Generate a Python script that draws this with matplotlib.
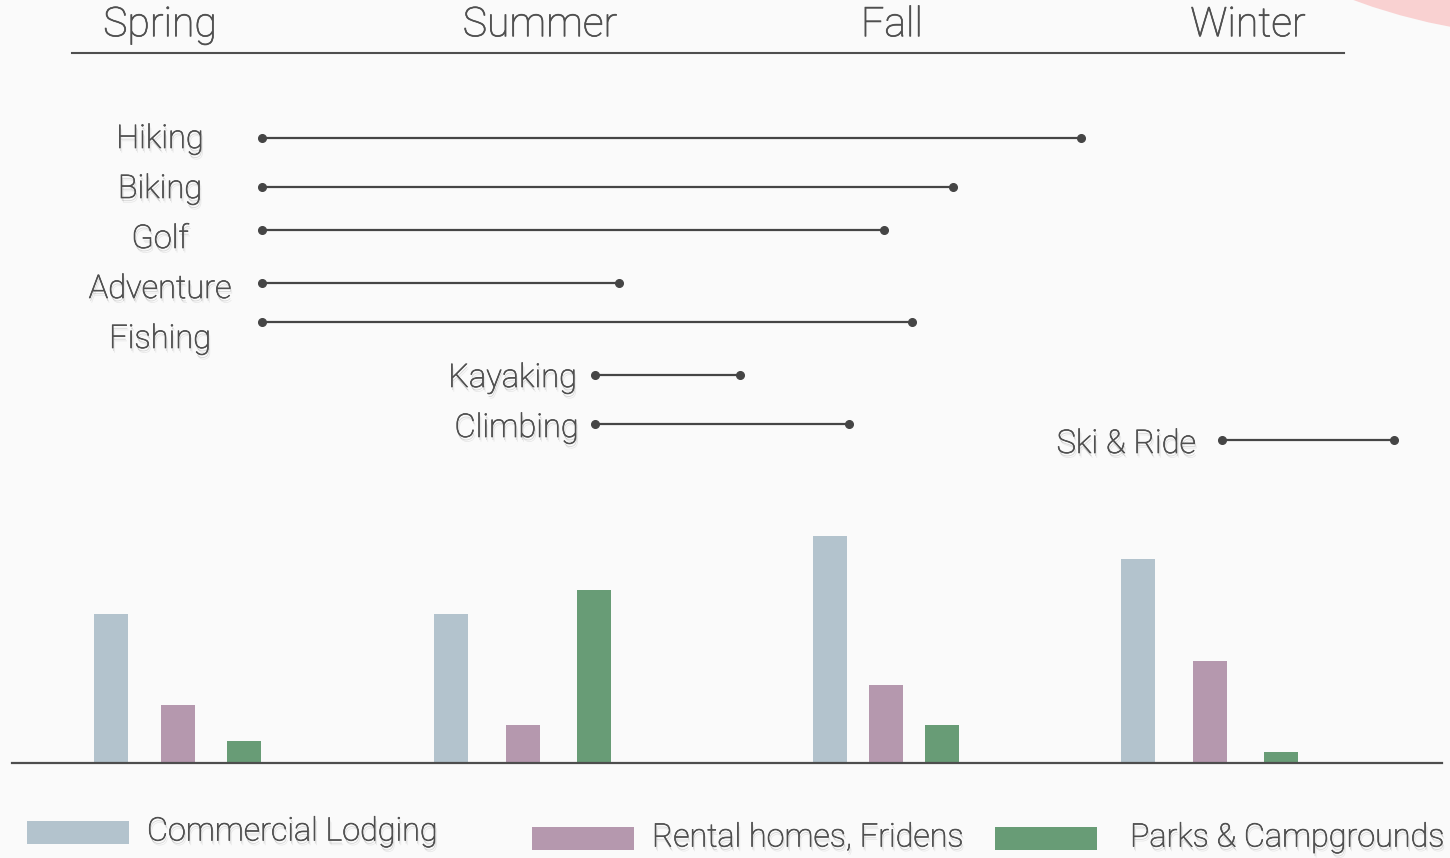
import matplotlib
matplotlib.use('Agg')
import matplotlib.pyplot as plt
import matplotlib.patches as patches
import matplotlib.patheffects as pe

plt.rcParams['font.family'] = ['Roboto', 'DejaVu Sans']

# ---- data ----
seasons = ["Spring", "Summer", "Fall", "Winter"]

# activity windows on a month scale (0 = start of spring, 12 = end of winter)
activities = ["Hiking", "Biking", "Golf", "Adventure", "Fishing", "Kayaking", "Climbing", "Ski & Ride"]
act_start = [2.34, 2.34, 2.34, 2.34, 2.34, 5.10, 5.10, 10.28]
act_end = [9.12, 8.06, 7.49, 5.30, 7.72, 6.30, 7.20, 11.71]

# lodging per season
series_names = ["Commercial Lodging", "Rental homes, Fridens", "Parks & Campgrounds"]
commercial = [14.9, 14.9, 22.7, 20.4]
rental = [5.8, 3.8, 7.8, 10.2]
parks = [2.2, 17.3, 3.8, 1.1]

# ---- layout (pixels) ----
W, H = 1450, 858
bg = '#fafafa'
txt = '#4f4f4f'
dark = '#454545'
colors = ['#b3c3cd', '#b598ae', '#689c76']

season_x = [160, 540, 892, 1248]
row_y = [138, 187, 230, 283, 322, 375, 424, 440]
label_pos = [(160, 139, 'center'), (160, 189, 'center'), (160, 239, 'center'),
             (160, 289, 'center'), (160, 339, 'center'), (577, 378, 'right'),
             (579, 428, 'right'), (1196, 444, 'right')]
bar_left = [[94, 434, 813, 1121], [161, 506, 869, 1193], [227, 577, 925, 1264]]
bar_w = 34
swatches = [(27, 821, 147, 832), (532, 827, 652, 838), (995, 827, 1130, 838)]

thick = pe.Stroke(linewidth=0.5, foreground=txt)
shadow = [pe.SimplePatchShadow(offset=(0.6, -2.2), shadow_rgbFace='black', alpha=0.14),
          pe.SimplePatchShadow(offset=(1.4, -3.4), shadow_rgbFace='black', alpha=0.07),
          thick, pe.Normal()]

fig = plt.figure(figsize=(W / 100, H / 100), dpi=100, facecolor=bg)

# canvas axes in pixel coordinates
ax = fig.add_axes([0, 0, 1, 1])
ax.set_xlim(0, W)
ax.set_ylim(H, 0)
ax.axis('off')
ax.set_facecolor(bg)

# decorative pink circle top-right
ax.add_patch(patches.Circle((1560, -560), 597, facecolor='#f9d1d1', edgecolor='none', zorder=0))

# season header
for s, x in zip(seasons, season_x):
    ax.text(x, 25, s, ha='center', va='center', fontsize=29.5, fontweight='light', color=txt,
            path_effects=[thick, pe.Normal()])
ax.plot([72, 1344], [53, 53], color=txt, lw=1.5)

# timeline (month scale on x, shares pixel y)
axt = ax.twiny()
axt.set_xlim(1.5 - 160 / 120.9, 1.5 + (W - 160) / 120.9)
axt.axis('off')
for i, a in enumerate(activities):
    axt.plot([act_start[i], act_end[i]], [row_y[i], row_y[i]], color=dark, lw=1.6,
             marker='o', markersize=5.5, solid_capstyle='butt')
    x, y, ha = label_pos[i]
    ax.text(x, y, a, ha=ha, va='center', fontsize=23.5, fontweight='light', color=txt,
            path_effects=shadow)

# bars
axb = fig.add_axes([0, (H - 763) / H, 1, 300 / H])
axb.set_xlim(0, W)
axb.set_ylim(0, 30)
axb.axis('off')
for vals, lefts, c in zip([commercial, rental, parks], bar_left, colors):
    axb.bar(lefts, vals, width=bar_w, align='edge', color=c, zorder=2)
axb.plot([12, 1442], [0, 0], color='#4d4d4d', lw=1.6, zorder=3, clip_on=False)

# legend
for (px, py, tx, ty), name, c in zip(swatches, series_names, colors):
    ax.add_patch(patches.Rectangle((px, py), 102, 23, facecolor=c, edgecolor='none'))
    ax.text(tx, ty, name, ha='left', va='center', fontsize=23.3, fontweight='light',
            color=txt, path_effects=shadow)

fig.savefig('out.png', dpi=100, facecolor=bg)
